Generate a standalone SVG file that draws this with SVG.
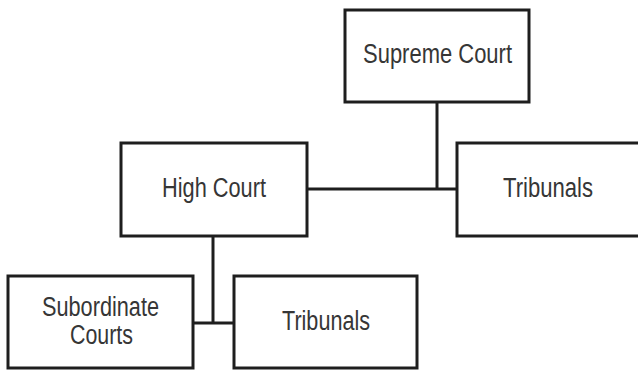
<svg xmlns="http://www.w3.org/2000/svg" width="638" height="376" viewBox="0 0 638 376">
  <style>
    .box { fill: #ffffff; stroke: #1e1e1e; stroke-width: 3; }
    .link { fill: none; stroke: #1e1e1e; stroke-width: 3; }
    .label { font-family: "Liberation Sans Narrow", "Liberation Sans", Arial, sans-serif; font-size: 27px; fill: #363636; text-anchor: middle; }
  </style>
  <rect width="638" height="376" fill="#ffffff"/>

  <!-- connectors -->
  <g id="connectors">
    <path class="link" d="M437 102 V189"/>
    <path class="link" d="M307 189 H457"/>
    <path class="link" d="M213 236 V323"/>
    <path class="link" d="M193 323 H234"/>
  </g>

  <g id="supreme-court">
    <rect class="box" x="345" y="10" width="184" height="92"/>
    <text class="label" x="437.5" y="63" textLength="149" lengthAdjust="spacingAndGlyphs">Supreme Court</text>
  </g>

  <g id="high-court">
    <rect class="box" x="121" y="143" width="186" height="93"/>
    <text class="label" x="214" y="197" textLength="104" lengthAdjust="spacingAndGlyphs">High Court</text>
  </g>

  <g id="tribunals-upper">
    <rect class="box" x="457" y="143" width="190" height="93"/>
    <text class="label" x="548" y="197" textLength="90" lengthAdjust="spacingAndGlyphs">Tribunals</text>
  </g>

  <g id="subordinate-courts">
    <rect class="box" x="8" y="276" width="185" height="92"/>
    <text class="label" x="100.5" y="316" textLength="117" lengthAdjust="spacingAndGlyphs">Subordinate</text>
    <text class="label" x="101.5" y="344" textLength="63" lengthAdjust="spacingAndGlyphs">Courts</text>
  </g>

  <g id="tribunals-lower">
    <rect class="box" x="234" y="276" width="183" height="92"/>
    <text class="label" x="326" y="330" textLength="88" lengthAdjust="spacingAndGlyphs">Tribunals</text>
  </g>
</svg>
